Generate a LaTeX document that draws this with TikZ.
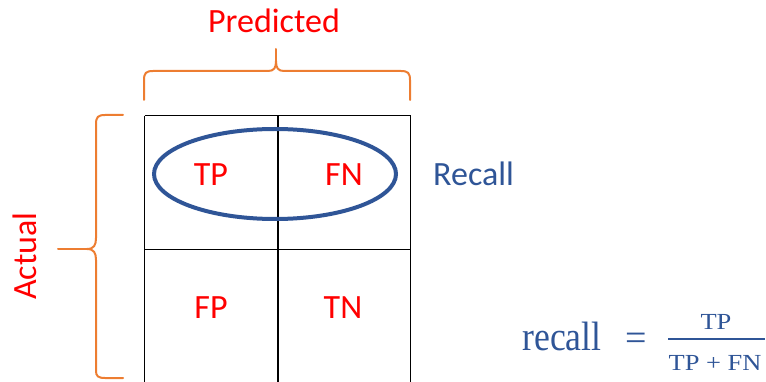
\documentclass[tikz,border=0pt]{standalone}
\usepackage{graphicx}
\usepackage{fontspec}
\setmainfont{Carlito}
\newfontfamily\formulafont{Liberation Serif}
\definecolor{lblred}{RGB}{255,0,0}
\definecolor{bracecol}{RGB}{237,125,49}
\definecolor{recallblue}{RGB}{47,85,151}
\begin{document}
\begin{tikzpicture}[x=1pt,y=-1pt,
  lbl/.style={text=lblred,font=\fontsize{34}{40}\selectfont,inner sep=0pt},
  bluelbl/.style={text=recallblue,font=\fontsize{34}{40}\selectfont,inner sep=0pt},
  frm/.style={text=recallblue,inner sep=0pt},
  bracestyle/.style={draw=bracecol,line width=2pt,line cap=round,line join=round},
  gridline/.style={draw=black,line width=1pt}]
\useasboundingbox (0,0) rectangle (766,382);
\begin{scope}
\clip (0,0) rectangle (766,382);
% confusion matrix grid
\draw[gridline] (144.5,116) -- (410.5,116);
\draw[gridline] (144.5,116) -- (144.5,390);
\draw[gridline] (410.5,116) -- (410.5,390);
\draw[gridline] (144.5,249.5) -- (410.5,249.5);
\draw[draw=black,line width=2pt] (278,116) -- (278,390);
\end{scope}

% recall ellipse around the top row
\draw[draw=recallblue,line width=4pt] (275,174) ellipse [x radius=121, y radius=45];

% cell labels
\node[lbl] (tp) at (211,175) {TP};
\node[lbl] (fn) at (344,175) {FN};
\node[lbl] (fp) at (211,308) {FP};
\node[lbl] (tn) at (343,308) {TN};

% axis titles
\node[lbl] (pred) at (274,21) {Predicted};
\node[lbl,rotate=90] (act) at (25,256) {Actual};
\node[bluelbl,anchor=west] (rec) at (433,174) {Recall};

% brace over the columns
\draw[bracestyle] (144,100) -- (144,80) .. controls (144,73) and (146,71) .. (153,71)
  -- (268,71) .. controls (274,71) and (276,68) .. (276,61)
  .. controls (276,68) and (278,71) .. (284,71)
  -- (401,71) .. controls (408,71) and (410,73) .. (410,80) -- (410,100);
\draw[bracestyle] (276,61) -- (276,49);

% brace beside the rows
\draw[bracestyle] (123,115) -- (105,115) .. controls (98,115) and (96,117) .. (96,124)
  -- (96,238) .. controls (96,245) and (94,249) .. (87,249)
  .. controls (94,249) and (96,253) .. (96,260)
  -- (96,371) .. controls (96,376) and (98,378) .. (105,378) -- (123,378);
\draw[bracestyle] (87,249) -- (58,249);

% recall formula
\node[frm,anchor=base,font=\formulafont\fontsize{41}{46}\selectfont] (rword) at (562,350) {\scalebox{0.87}[1]{recall}};
\node[frm,anchor=center,font=\formulafont\fontsize{38}{42}\selectfont] (eq) at (636,342) {=};
\node[frm,anchor=base,font=\formulafont\fontsize{23}{28}\selectfont] (num) at (716,329) {\scalebox{1.15}[1]{TP}};
\node[frm,anchor=base,font=\formulafont\fontsize{23}{28}\selectfont] (den) at (715,370) {\scalebox{1.15}[1]{TP + FN}};
\coordinate (barl) at (668,339);
\coordinate (barr) at (765,339);
\draw[draw=recallblue,line width=1.8pt] (barl) -- (barr);
\end{tikzpicture}
\end{document}
